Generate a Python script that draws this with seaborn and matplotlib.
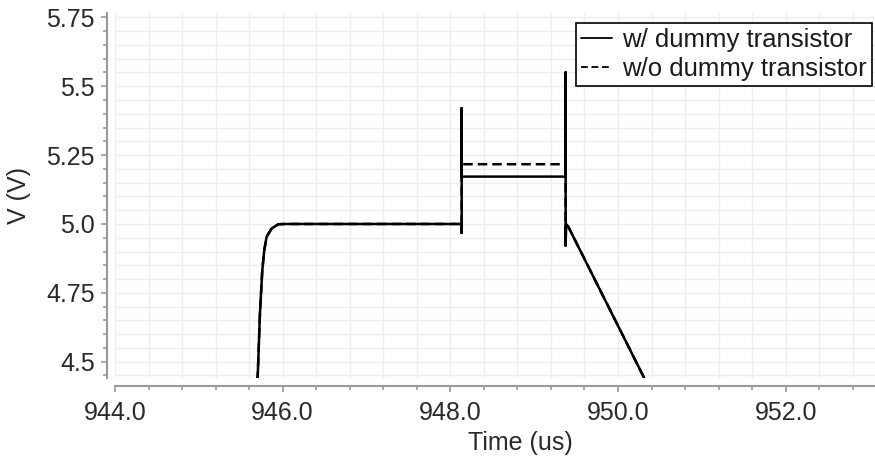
import matplotlib
matplotlib.use("Agg")
import matplotlib.pyplot as plt
from matplotlib.ticker import MultipleLocator, FixedLocator
import pandas as pd
import seaborn as sns

# Supply node transient around the switching event (time in microseconds)
time_us = [945.69, 945.702, 945.729, 945.757, 945.781, 945.809, 945.869, 945.948, 946.03,
           948.135, 948.135, 948.135, 948.135,
           949.375, 949.375, 949.375, 949.38, 949.407, 950.33]
v_with_dummy = [4.43, 4.446, 4.676, 4.833, 4.906, 4.954, 4.984, 4.999, 5.0,
                5.0, 4.968, 5.42, 5.172,
                5.172, 5.55, 4.921, 5.0, 4.99, 4.43]
v_without_dummy = [4.43, 4.446, 4.676, 4.833, 4.906, 4.954, 4.984, 4.999, 5.0,
                   5.0, 4.968, 5.42, 5.217,
                   5.217, 5.55, 4.921, 5.0, 4.99, 4.43]
series_labels = ["w/ dummy transistor", "w/o dummy transistor"]

x_ticks = [944.0, 946.0, 948.0, 950.0, 952.0]
x_ticklabels = ["944.0", "946.0", "948.0", "950.0", "952.0"]
y_ticks = [4.5, 4.75, 5.0, 5.25, 5.5, 5.75]
y_ticklabels = ["4.5", "4.75", "5.0", "5.25", "5.5", "5.75"]

df_with = pd.DataFrame({"t": time_us, "v": v_with_dummy})
df_without = pd.DataFrame({"t": time_us, "v": v_without_dummy})

sns.set_theme(style="ticks")
plt.rcParams["font.family"] = ["Liberation Sans", "DejaVu Sans"]

W, H = 875, 462
fig = plt.figure(figsize=(W / 100, H / 100), dpi=100)
ax = fig.add_axes([115 / W, 84 / H, 760 / W, 365 / H])

sns.lineplot(data=df_without, x="t", y="v", ax=ax, sort=False, estimator=None,
             color="black", linewidth=1.8, linestyle=(0, (3.8, 2.0)),
             label=series_labels[1])
sns.lineplot(data=df_with, x="t", y="v", ax=ax, sort=False, estimator=None,
             color="black", linewidth=1.8, label=series_labels[0])

ax.set_xlim(944.0, 953.065)
ax.set_ylim(4.4408, 5.766)

ax.xaxis.set_major_locator(FixedLocator(x_ticks))
ax.set_xticklabels(x_ticklabels)
ax.xaxis.set_minor_locator(MultipleLocator(0.4))
ax.yaxis.set_major_locator(FixedLocator(y_ticks))
ax.set_yticklabels(y_ticklabels)
ax.yaxis.set_minor_locator(MultipleLocator(0.05))

ax.set_axisbelow(True)
ax.grid(which="both", color="#ededed", linewidth=1.0)

sns.despine(ax=ax, offset=6)
for side in ("left", "bottom"):
    ax.spines[side].set_color("#9a9a9a")
    ax.spines[side].set_linewidth(1.5)

ax.tick_params(which="major", length=4.5, width=1.2, color="#9a9a9a",
               labelsize=18, labelcolor="#2a2a2a")
ax.tick_params(which="minor", length=3, width=1.2, color="#9a9a9a")
ax.tick_params(axis="x", which="major", pad=6)
ax.tick_params(axis="y", which="major", pad=4)

ax.set_xlabel("Time (us)", fontsize=18, color="#2a2a2a")
ax.set_ylabel("V (V)", fontsize=18, color="#2a2a2a")
ax.xaxis.set_label_coords(0.533, -0.145)
ax.yaxis.set_label_coords(-0.11, 0.5)

lines = ax.get_lines()
handles = [lines[1], lines[0]]
leg = ax.legend(handles, series_labels, loc="upper right",
                bbox_to_anchor=(872 / W, 1 - 22.7 / H), bbox_transform=fig.transFigure,
                frameon=True, fancybox=False, edgecolor="black", framealpha=1,
                fontsize=18.5, handlelength=1.2, handletextpad=0.4,
                borderpad=0.2, labelspacing=0.2, borderaxespad=0)
leg.get_frame().set_linewidth(1.2)
for h in leg.legend_handles:
    h.set_linewidth(1.3)
for txt in leg.get_texts():
    txt.set_color("#1a1a1a")

fig.savefig("out.png", dpi=100)
